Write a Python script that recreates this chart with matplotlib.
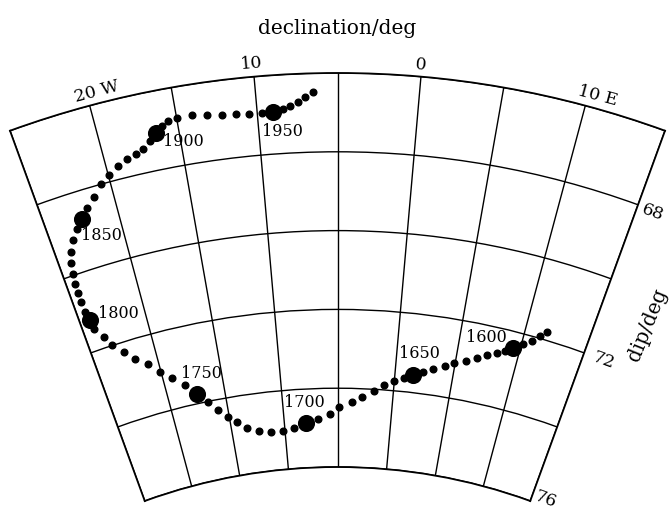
import numpy as np
import matplotlib
matplotlib.use("Agg")
import matplotlib.pyplot as plt

plt.rcParams['font.family'] = ['DejaVu Serif']

# secular variation path, one point every 5 years (declination E positive, dip in deg)
years = list(range(1580, 1980, 5))
decl = [11.70, 11.26, 10.76, 10.13, 9.43, 8.86, 8.26, 7.49, 6.73, 5.88,
        4.92, 4.21, 3.24, 2.42, 1.60, 0.85, 0.00, -0.84, -1.70, -2.75,
        -3.64, -4.82, -5.74, -6.87, -8.01, -9.17, -10.23, -11.37, -12.49, -13.57,
        -14.40, -15.14, -15.92, -16.66, -17.46, -18.30, -19.24, -20.09, -20.88, -21.78,
        -22.47, -23.21, -23.61, -24.14, -24.20, -24.36, -24.40, -24.39, -24.37, -24.27,
        -24.15, -23.89, -23.50, -23.01, -22.48, -21.94, -21.29, -20.61, -19.96, -19.25,
        -18.59, -17.96, -17.45, -16.91, -16.44, -15.99, -15.57, -14.99, -14.05, -13.13,
        -12.21, -11.34, -10.54, -9.73, -9.04, -8.41, -7.97, -7.46, -7.02, -6.52]
dip = [71.79, 71.94, 72.12, 72.25, 72.41, 72.54, 72.63, 72.74, 72.87, 73.00,
       73.10, 73.22, 73.34, 73.45, 73.55, 73.65, 73.75, 73.88, 74.04, 74.21,
       74.35, 74.48, 74.65, 74.77, 74.86, 74.97, 75.02, 75.02, 74.95, 74.84,
       74.65, 74.48, 74.26, 74.01, 73.76, 73.47, 73.22, 72.99, 72.71, 72.50,
       72.25, 71.98, 71.73, 71.45, 71.20, 70.97, 70.70, 70.46, 70.22, 69.96,
       69.68, 69.42, 69.14, 68.91, 68.71, 68.48, 68.26, 67.99, 67.82, 67.66,
       67.55, 67.47, 67.39, 67.23, 67.06, 66.92, 66.82, 66.78, 66.77, 66.83,
       66.88, 66.90, 66.93, 66.93, 66.93, 66.87, 66.81, 66.71, 66.59, 66.47]

epochs = [1600, 1650, 1700, 1750, 1800, 1850, 1900, 1950]
# label offsets in pixels from the big dot
epoch_offsets = [(-27, 10), (6, 21), (-1, 20), (5, 21), (28, 6), (19, -16), (28, -9), (10, -20)]

decl_ticks = [-20, -10, 0, 10]
decl_ticklabels = ["20 W", "10", "0", "10 E"]
decl_tick_offsets = [(7, 14), (-3, 13), (0, 12), (12, 10)]

dip_ticks = [68, 72, 76]
dip_tick_offsets = [(15, -8), (19, -8), (15, 1)]

fig = plt.figure(figsize=(6.72, 5.14), dpi=100)
ax = fig.add_axes([10 / 672, (514 - 614.5) / 514, 655 / 672, 655 / 514], projection='polar')
ax.set_theta_zero_location('N', offset=-5)
ax.set_theta_direction(-1)
ax.set_thetamin(-25)
ax.set_thetamax(15)
ax.set_rlim(76, 66)
ax.set_rorigin(90.3)

ax.set_xticks(np.deg2rad(np.arange(-25, 16, 5)))
ax.set_xticklabels([])
ax.set_yticks(np.arange(66, 77, 2))
ax.set_yticklabels([])
ax.tick_params(length=0)
ax.grid(True, color='black', lw=1.0)
for sp in ax.spines.values():
    sp.set_linewidth(1.3)
    sp.set_color('black')

th = np.deg2rad(decl)
ax.plot(th, dip, 'o', color='black', ms=4.8, ls='none', clip_on=False, zorder=3)

idx = [years.index(y) for y in epochs]
ax.plot(th[idx], np.array(dip)[idx], 'o', color='black', ms=11.3, ls='none',
        clip_on=False, zorder=4)
for i, yr, off in zip(idx, epochs, epoch_offsets):
    ax.annotate(str(yr), xy=(th[i], dip[i]), xytext=off, textcoords='offset pixels',
                ha='center', va='center', fontsize=11.5)

# declination labels along the outer arc
for d, lab, off in zip(decl_ticks, decl_ticklabels, decl_tick_offsets):
    ax.annotate(lab, xy=(np.deg2rad(d), 66), xytext=off, textcoords='offset pixels',
                ha='center', va='center', fontsize=12.5, rotation=-(d + 5),
                rotation_mode='anchor', annotation_clip=False)

# dip labels along the right edge
for p, off in zip(dip_ticks, dip_tick_offsets):
    ax.annotate(str(p), xy=(np.deg2rad(15), p), xytext=off, textcoords='offset pixels',
                ha='center', va='center', fontsize=12.5, rotation=-20,
                rotation_mode='anchor', annotation_clip=False)

fig.text(337.5 / 672, 1 - 28 / 514, "declination/deg", ha='center', va='center', fontsize=14.5)
fig.text(648 / 672, 1 - 325 / 514, "dip/deg", ha='center', va='center', fontsize=14.5,
         rotation=68)

fig.savefig("out.png", dpi=100)
